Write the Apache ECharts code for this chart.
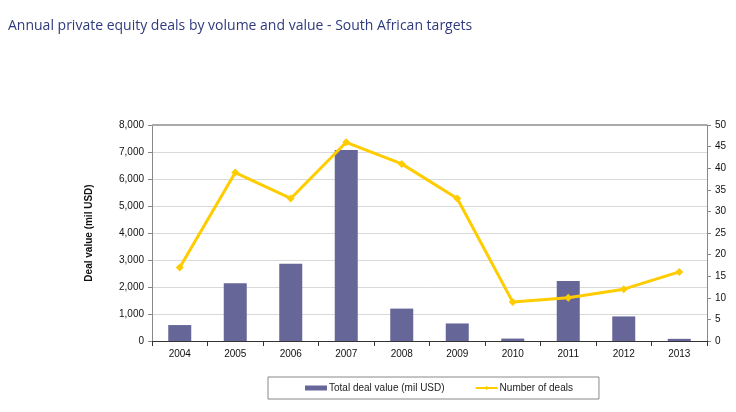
<!DOCTYPE html>
<html>
<head>
<meta charset="utf-8">
<script src="https://cdn.jsdelivr.net/npm/echarts@6/dist/echarts.min.js"></script>
<style>html,body{margin:0;padding:0;background:#fff;}#c{width:736px;height:412px;}</style>
</head>
<body>
<div id="c"></div>
<script>
var years = ['2004','2005','2006','2007','2008','2009','2010','2011','2012','2013'];
var dealValue = [590, 2140, 2860, 7070, 1200, 650, 90, 2220, 910, 80];
var dealCount = [17, 39, 33, 46, 41, 33, 9, 10, 12, 16];

var F = '"Liberation Sans", Arial, sans-serif';
var chart = echarts.init(document.getElementById('c'));
chart.setOption({
  animation: false,
  backgroundColor: '#fff',
  title: {
    text: 'Annual private equity deals by volume and value - South African targets',
    left: 3, top: 14,
    textStyle: { fontFamily: '"Open Sans", sans-serif', fontSize: 14, fontWeight: 500, color: '#2f3a7e' }
  },
  grid: { left: 152, right: 29, top: 125, bottom: 71, show: true, borderColor: 'transparent' },
  legend: {
    data: [
      { name: 'Total deal value (mil USD)', icon: 'rect' },
      { name: 'Number of deals' }
    ],
    left: 268, top: 377,
    borderColor: '#888', borderWidth: 1, borderRadius: 0,
    padding: [6, 26, 6, 37],
    itemGap: 30, itemWidth: 22, itemHeight: 5,
    textStyle: { fontFamily: F, fontSize: 10, color: '#222', padding: [0,0,0,-3] }
  },
  xAxis: {
    type: 'category', data: years,
    axisLine: { lineStyle: { color: '#333', width: 1 } },
    axisTick: { show: true, alignWithLabel: false, length: 5, lineStyle: { color: '#333' } },
    axisLabel: { fontFamily: F, fontSize: 10, color: '#111', margin: 8 }
  },
  yAxis: [
    {
      type: 'value', min: 0, max: 8000, interval: 1000,
      name: 'Deal value (mil USD)', nameLocation: 'middle', nameGap: 58, nameRotate: 90,
      nameTextStyle: { fontFamily: F, fontSize: 10, fontWeight: 'bold', color: '#111' },
      axisLine: { show: true, lineStyle: { color: '#888' } },
      axisTick: { show: true, length: 4, lineStyle: { color: '#888' } },
      splitLine: { show: true, lineStyle: { color: '#d9d9d9' } },
      axisLabel: { fontFamily: F, fontSize: 10, color: '#111', margin: 8,
        formatter: function (v) { return v.toLocaleString('en-US'); } }
    },
    {
      type: 'value', min: 0, max: 50, interval: 5, position: 'right',
      axisLine: { show: true, lineStyle: { color: '#888' } },
      axisTick: { show: true, length: 4, lineStyle: { color: '#888' } },
      splitLine: { show: false },
      axisLabel: { fontFamily: F, fontSize: 10, color: '#111', margin: 8 }
    }
  ],
  series: [
    {
      name: 'Total deal value (mil USD)', type: 'bar', data: dealValue, yAxisIndex: 0,
      barWidth: 23,
      itemStyle: { color: '#666699' },
      markLine: { silent: true, symbol: 'none', label: { show: false },
        lineStyle: { color: '#aaa', width: 2, type: 'solid' }, data: [{ yAxis: 8000 }] }
    },
    {
      name: 'Number of deals', type: 'line', data: dealCount, yAxisIndex: 1,
      symbol: 'diamond', symbolSize: 8,
      lineStyle: { color: '#FFCC00', width: 3 },
      itemStyle: { color: '#FFCC00' },
      z: 5
    }
  ]
});
</script>
</body>
</html>
